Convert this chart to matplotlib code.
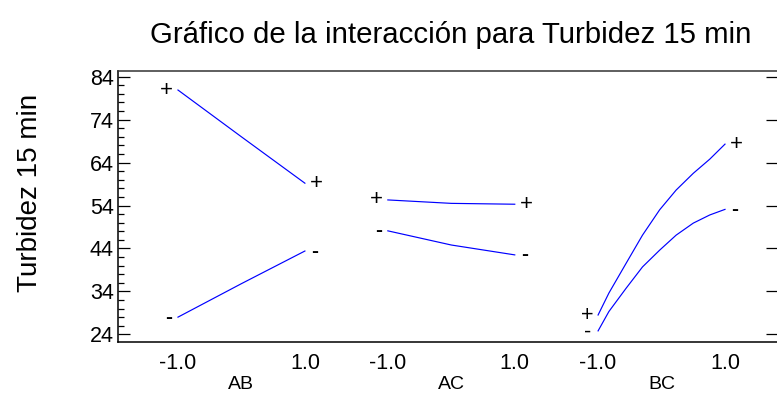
import matplotlib
matplotlib.use("Agg")
import matplotlib.pyplot as plt
from matplotlib.ticker import MultipleLocator, FixedLocator

plt.rcParams['font.family'] = ['Liberation Sans', 'DejaVu Sans']

# ---- data ----
factors = ["AB", "AC", "BC"]
x_tick_labels = ["-1.0", "1.0"]

AB_x = [-1.0, 0.0, 1.0]
AB_plus = [80.9, 70.0, 59.2]
AB_minus = [28.0, 35.8, 43.4]

AC_x = [-1.0, 0.0, 1.0]
AC_plus = [55.3, 54.5, 54.3]
AC_minus = [48.1, 44.8, 42.5]

BC_x = [-1.0, -0.83, -0.56, -0.30, -0.03, 0.23, 0.50, 0.76, 1.0]
BC_plus = [28.5, 33.6, 40.5, 47.1, 53.0, 57.6, 61.5, 64.8, 68.3]
BC_minus = [24.8, 29.3, 34.7, 39.7, 43.6, 47.1, 49.9, 51.8, 53.1]

y_ticks = [24, 34, 44, 54, 64, 74, 84]

series = [
    (AB_x, AB_plus, AB_minus),
    (AC_x, AC_plus, AC_minus),
    (BC_x, BC_plus, BC_minus),
]
offsets = [0.0, 3.307, 6.62]

fig = plt.figure(figsize=(7.77, 3.94), dpi=100)
ax = fig.add_axes([118 / 777, 1 - 342.3 / 394, 660 / 777, (342.3 - 71) / 394])

plus_dx = 0.18
minus_dx = 0.15


def end_marks(x, y_plus, y_minus, side):
    """Draw '+' and '-' labels at one end of a pair of lines."""
    if abs(y_plus - y_minus) < 6:
        # close together: one two-line text so the glyphs stack cleanly
        ax.text(x + side * (plus_dx + minus_dx) / 2, (y_plus + y_minus) / 2 - 0.2,
                "+\n-", ha="center", va="center", fontsize=15.5,
                linespacing=0.74, multialignment="center")
    else:
        ax.text(x + side * plus_dx, y_plus, "+", ha="center", va="center",
                fontsize=16)
        ax.text(x + side * minus_dx, y_minus, "-", ha="center", va="center",
                fontsize=15, fontweight="bold")


for (xs, yp, ym), off in zip(series, offsets):
    xx = [x + off for x in xs]
    ax.plot(xx, yp, color="#0000FF", lw=0.85)
    ax.plot(xx, ym, color="#0000FF", lw=0.85)
    end_marks(xx[0], yp[0], ym[0], -1)
    end_marks(xx[-1], yp[-1], ym[-1], 1)

ax.set_xlim(-1.945, 8.455)
ax.set_ylim(22.14, 85.33)

ax.yaxis.set_major_locator(FixedLocator(y_ticks))
ax.yaxis.set_minor_locator(MultipleLocator(2))
ax.tick_params(axis="y", which="major", direction="in", length=8.6, width=0.9,
               labelsize=15.5, right=True, pad=3)
ax.tick_params(axis="y", which="minor", direction="in", length=4.3, width=0.9)
ax.tick_params(axis="y", which="minor", right=False)

xt = []
xl = []
for off in offsets:
    for v, lab in zip([-1.0, 1.0], x_tick_labels):
        xt.append(v + off)
        xl.append(lab)
ax.set_xticks(xt)
ax.set_xticklabels(xl)
ax.tick_params(axis="x", length=0, labelsize=15.5, pad=8)

for off, name in zip(offsets, factors):
    ax.text(off, -0.155, name, transform=ax.get_xaxis_transform(),
            ha="center", va="center", fontsize=14)

for s in ax.spines.values():
    s.set_linewidth(1.1)
ax.spines["top"].set_color("#333333")

fig.text(451 / 777, 1 - 35 / 394, "Gráfico de la interacción para Turbidez 15 min",
         ha="center", va="center", fontsize=21.2)
fig.text(30 / 777, 1 - 193 / 394, "Turbidez 15 min", rotation=90,
         ha="center", va="center", fontsize=20)

fig.savefig("out.png", dpi=100)
